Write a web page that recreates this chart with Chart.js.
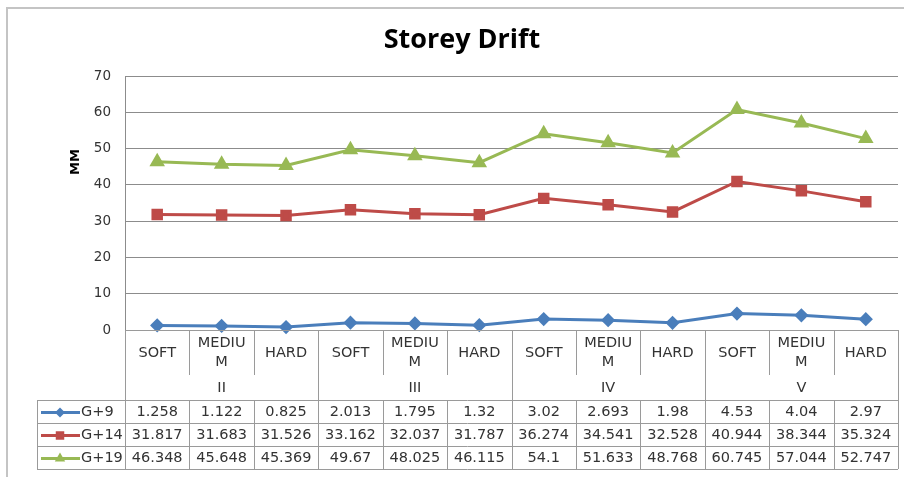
<!DOCTYPE html>
<html>
<head>
<meta charset="utf-8">
<script src="https://cdn.jsdelivr.net/npm/chart.js@4"></script>
<style>
  html, body { margin: 0; padding: 0; background: #fff; }
  #wrap { width: 904px; height: 477px; position: relative; }
</style>
</head>
<body>
<div id="wrap"><canvas id="drift" width="904" height="477"></canvas></div>
<script>
// values
const soilTypes = ["SOFT", "MEDIUM", "HARD"];
const zones = ["II", "III", "IV", "V"];
const seriesNames = ["G+9", "G+14", "G+19"];
const g9 = [1.258, 1.122, 0.825, 2.013, 1.795, 1.32, 3.02, 2.693, 1.98, 4.53, 4.04, 2.97];
const g14 = [31.817, 31.683, 31.526, 33.162, 32.037, 31.787, 36.274, 34.541, 32.528, 40.944, 38.344, 35.324];
const g19 = [46.348, 45.648, 45.369, 49.67, 48.025, 46.115, 54.1, 51.633, 48.768, 60.745, 57.044, 52.747];
const yTicks = [0, 10, 20, 30, 40, 50, 60, 70];

const labels = [];
zones.forEach(z => soilTypes.forEach(s => labels.push(s + " " + z)));

const FONT = "'DejaVu Sans', Verdana, sans-serif";
const TEXT = "#333";
const LINE = "#9a9a9a";

// wrap a word into lines that fit the cell (Excel breaks MEDIUM as MEDIU / M)
function wrapText(ctx, str, maxW) {
  const out = [];
  let cur = "";
  for (const ch of str) {
    if (cur && ctx.measureText(cur + ch).width > maxW) { out.push(cur); cur = ch; }
    else cur += ch;
  }
  out.push(cur);
  return out;
}

const framePlugin = {
  id: "frame",
  beforeDraw(chart) {
    const ctx = chart.ctx;
    ctx.save();
    ctx.strokeStyle = "#c4c4c4";
    ctx.lineWidth = 2;
    ctx.beginPath();
    ctx.moveTo(7, 477);
    ctx.lineTo(7, 8);
    ctx.lineTo(904, 8);
    ctx.stroke();
    ctx.restore();
  }
};

const tablePlugin = {
  id: "dataTable",
  afterDraw(chart) {
    const { ctx, chartArea: a } = chart;
    const n = labels.length;
    const w = (a.right - a.left) / n;
    const top = a.bottom;
    const hdrBottom = top + 70;
    const rowH = 23;
    const tableBottom = hdrBottom + rowH * seriesNames.length;
    const legendLeft = 37;
    const colX = i => a.left + i * w;

    ctx.save();
    ctx.strokeStyle = LINE;
    ctx.lineWidth = 1;
    ctx.beginPath();
    // horizontal rules
    ctx.moveTo(a.left, top + 0.5); ctx.lineTo(a.right, top + 0.5);
    for (let r = 0; r <= seriesNames.length; r++) {
      const y = Math.round(hdrBottom + r * rowH) + 0.5;
      ctx.moveTo(legendLeft, y); ctx.lineTo(a.right, y);
    }
    // vertical rules
    for (let i = 0; i <= n; i++) {
      const x = Math.round(colX(i)) + 0.5;
      if (i % soilTypes.length === 0) {
        ctx.moveTo(x, top); ctx.lineTo(x, tableBottom);
      } else {
        ctx.moveTo(x, top); ctx.lineTo(x, top + 45);
        ctx.moveTo(x, hdrBottom); ctx.lineTo(x, tableBottom);
      }
    }
    const lx = legendLeft + 0.5;
    ctx.moveTo(lx, hdrBottom); ctx.lineTo(lx, tableBottom);
    ctx.stroke();

    // category header text
    ctx.fillStyle = TEXT;
    ctx.font = "14.5px " + FONT;
    ctx.textAlign = "center";
    ctx.textBaseline = "middle";
    for (let i = 0; i < n; i++) {
      const cx = colX(i) + w / 2;
      const lines = wrapText(ctx, soilTypes[i % soilTypes.length], w - 12);
      const lh = 19;
      const cy = top + 23;
      lines.forEach((t, k) => ctx.fillText(t, cx, cy + (k - (lines.length - 1) / 2) * lh));
    }
    zones.forEach((z, g) => {
      const cx = colX(g * soilTypes.length) + w * soilTypes.length / 2;
      ctx.fillText(z, cx, top + 58);
    });

    // data rows with legend keys
    const sets = chart.data.datasets;
    sets.forEach((ds, r) => {
      const cy = hdrBottom + rowH * r + rowH / 2 + 1;
      ctx.fillStyle = TEXT;
      ctx.textAlign = "center";
      ds.data.forEach((v, i) => ctx.fillText(String(v), colX(i) + w / 2, cy));
      ctx.textAlign = "left";
      ctx.fillText(ds.label, 81, cy);
      ctx.strokeStyle = ds.borderColor;
      ctx.lineWidth = 3;
      ctx.beginPath();
      ctx.moveTo(41, cy); ctx.lineTo(80, cy);
      ctx.stroke();
      ctx.fillStyle = ds.borderColor;
      Chart.helpers.drawPoint(ctx, { pointStyle: ds.pointStyle, radius: ds.pointRadius, rotation: 0 }, 60, cy);
    });

    // y axis title, sits higher than the plot centre as in the original
    ctx.save();
    ctx.translate(76, 162);
    ctx.rotate(-Math.PI / 2);
    ctx.font = "bold 13px " + FONT;
    ctx.fillStyle = "#000";
    ctx.textAlign = "center";
    ctx.fillText("MM", 0, 0);
    ctx.restore();
    ctx.restore();
  }
};

new Chart(document.getElementById("drift"), {
  type: "line",
  data: {
    labels: labels,
    datasets: [
      { label: seriesNames[0], data: g9, borderColor: "#4A7EBB", backgroundColor: "#4A7EBB", pointStyle: "rectRot", pointRadius: 5 },
      { label: seriesNames[1], data: g14, borderColor: "#BE4B48", backgroundColor: "#BE4B48", pointStyle: "rect", pointRadius: 6 },
      { label: seriesNames[2], data: g19, borderColor: "#98B954", backgroundColor: "#98B954", pointStyle: "triangle", pointRadius: 6 }
    ].map(d => Object.assign(d, { borderWidth: 3, tension: 0, pointHoverRadius: d.pointRadius, clip: false }))
  },
  options: {
    responsive: false,
    animation: false,
    devicePixelRatio: 1,
    layout: { autoPadding: false, padding: { left: 26, right: 6, top: 0, bottom: 147 } },
    plugins: {
      legend: { display: false },
      tooltip: { enabled: false },
      title: {
        display: true,
        text: "Storey Drift",
        color: "#000",
        font: { family: "'Open Sans', sans-serif", size: 27, weight: "bold" },
        padding: { top: 24, bottom: 19.6 }
      }
    },
    scales: {
      x: {
        offset: true,
        grid: { display: false, drawTicks: false },
        border: { display: false },
        ticks: { display: false },
        afterFit: s => { s.height = 0; }
      },
      y: {
        min: 0,
        max: 70,
        afterBuildTicks: s => { s.ticks = yTicks.map(v => ({ value: v })); },
        grid: { color: "#8c8c8c", drawTicks: false },
        border: { color: "#8c8c8c" },
        ticks: { color: TEXT, font: { family: FONT, size: 13.5 }, padding: 14 },
        afterFit: s => { s.width = 99; }
      }
    }
  },
  plugins: [framePlugin, tablePlugin]
});
</script>
</body>
</html>
